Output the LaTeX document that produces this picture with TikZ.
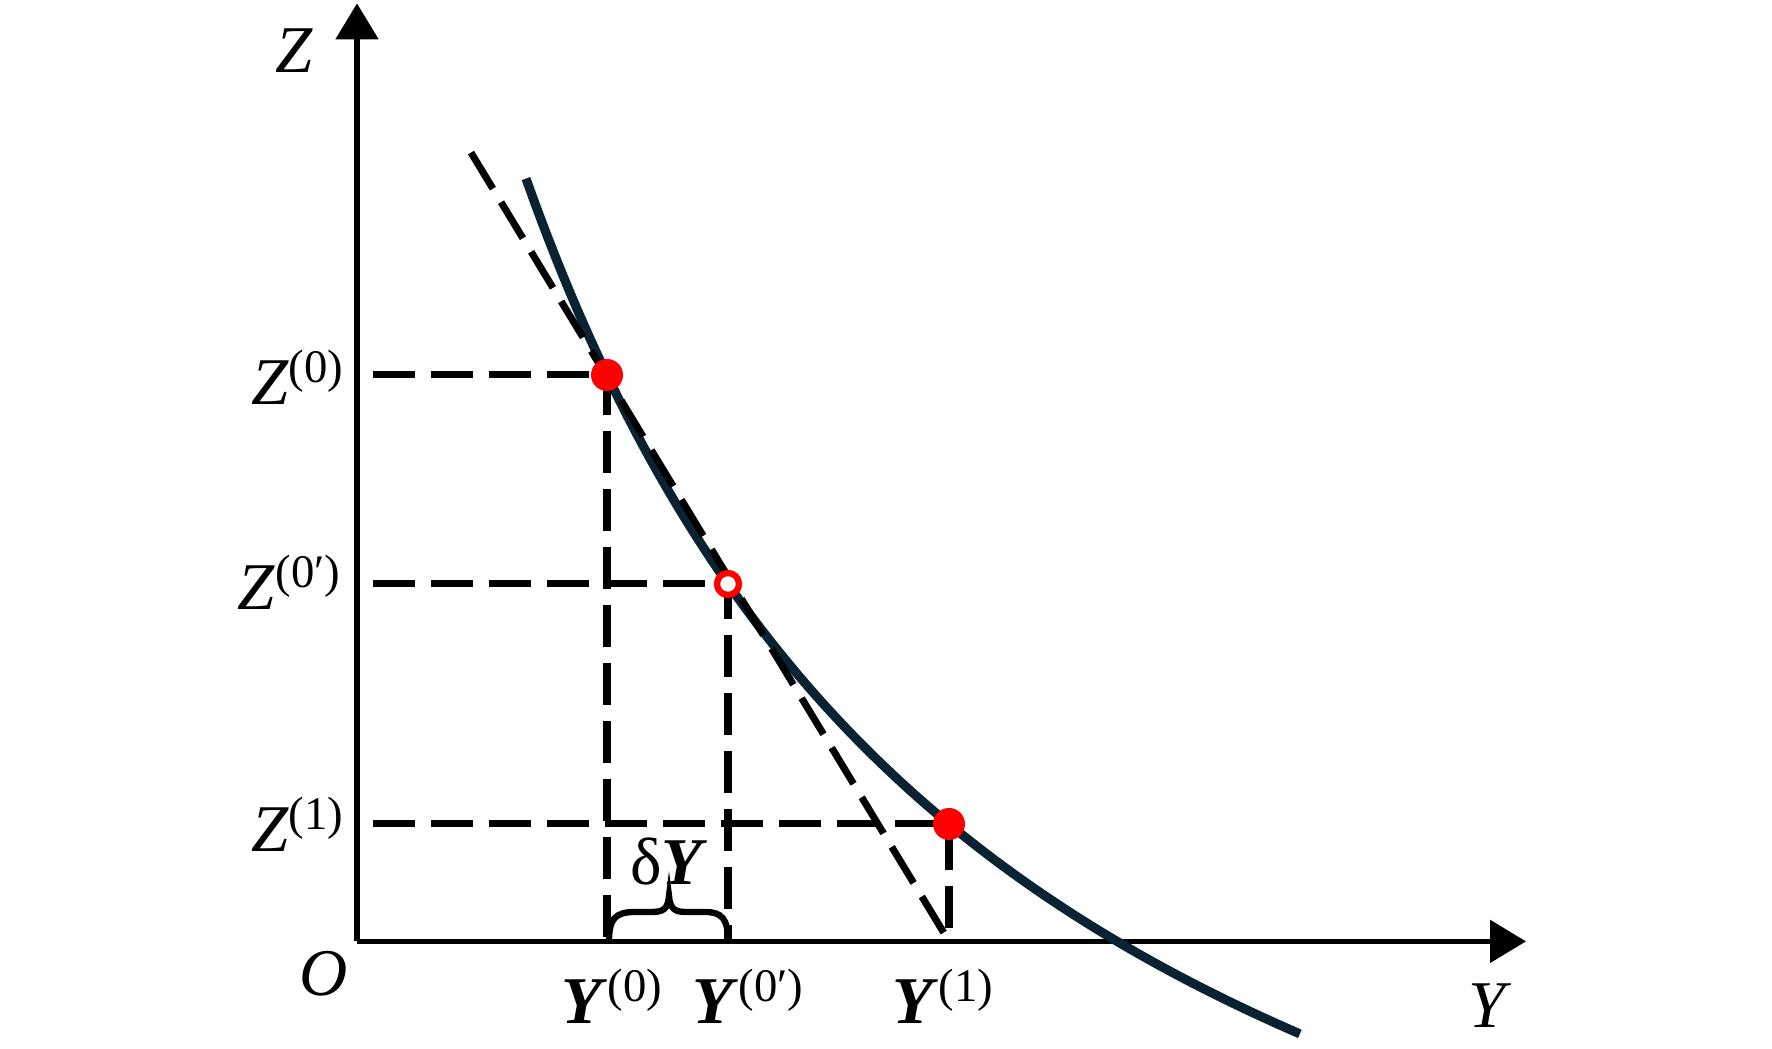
\documentclass[tikz,border=0pt]{standalone}
\usepackage{fontspec}
\setmainfont{Liberation Serif}
\usetikzlibrary{arrows.meta}
\definecolor{curvecol}{RGB}{10,35,50}
\newcommand{\lblz}[1]{\textit{Z}\textsuperscript{(#1)}}
\newcommand{\lbly}[1]{\textbf{\textit{Y}}\textsuperscript{(#1)}}

\begin{document}
\begin{tikzpicture}[
	axis/.style={line width=1.5pt, -{Triangle[length=0.36cm,width=0.42cm]}},
	guide/.style={line width=2pt, dash pattern=on 12pt off 4.5pt},
	every node/.style={inner sep=0pt, font=\fontsize{19}{22}\selectfont}]
	\useasboundingbox (0,0) rectangle (17.72,10.49);
	% points
	\coordinate (O) at (3.57,1.076);
	\coordinate (ytip) at (15.26,1.076);
	\coordinate (ztip) at (3.57,10.456);
	\coordinate (zs) at (3.73,1.076);
	\coordinate (p0) at (6.07,6.74);
	\coordinate (p0p) at (7.28,4.65);
	\coordinate (p1) at (9.49,2.25);
	\coordinate (t0) at (4.71,8.964);
	\coordinate (y0) at (p0 |- O);
	\coordinate (y0p) at (p0p |- O);
	\coordinate (y1) at (p1 |- O);
	% axes
	\draw [axis] (O) -- (ytip);
	\draw [axis] (O) -- (ztip);
	% curve
	\draw [curvecol, line width=2.6pt] plot [domain=5.26:13.0, samples=100]
		(\x, {70.2/(\x-0.27)-5.364});
	% guides
	\draw [guide] (zs |- p0) -- (p0) -- (y0);
	\draw [guide] (zs |- p0p) -- (p0p) -- (y0p);
	\draw [guide] (zs |- p1) -- (p1) -- (y1);
	\draw [guide] (t0) -- (y1);
	% brace
	\draw [line width=1.8pt] (6.09,1.076) .. controls (6.09,1.30) and (6.15,1.37) .. (6.35,1.37)
		-- (6.52,1.37) .. controls (6.63,1.37) and (6.68,1.40) .. (6.69,1.53)
		.. controls (6.70,1.40) and (6.75,1.37) .. (6.86,1.37)
		-- (7.05,1.37) .. controls (7.22,1.37) and (7.28,1.30) .. (7.28,1.076);
	% dots
	\fill [red] (p0) circle (0.16);
	\fill [red] (p1) circle (0.16);
	\draw [red, line width=1.8pt, fill=white] (p0p) circle (0.11);
	% labels
	\node (lz) at (2.94,9.98) {\textit{Z}};
	\node (ly) at (14.9,0.43) {\textit{Y}};
	\node (lo) at (3.24,0.75) {\textit{O}};
	\node (lz0) at (2.98,6.72) {\lblz{0}};
	\node (lz0p) at (2.90,4.67) {\lblz{0′}};
	\node (lz1) at (2.98,2.25) {\lblz{1}};
	\node (ly0) at (6.13,0.53) {\lbly{0}};
	\node (ly0p) at (7.49,0.53) {\lbly{0′}};
	\node (ly1) at (9.44,0.53) {\lbly{1}};
	\node (ldy) at (6.69,1.87) {δ\textbf{\textit{Y}}};
\end{tikzpicture}
\end{document}
